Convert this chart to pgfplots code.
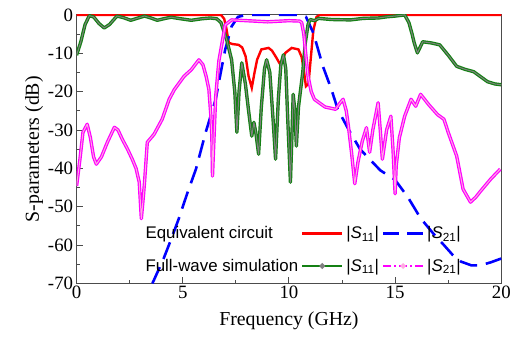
\documentclass[border=0pt]{standalone}
\usepackage{fontspec}
\setmainfont{Liberation Serif}
\newfontfamily\arial{Liberation Sans}
\usepackage{pgfplots}
\usepackage{pgfplotstable}
\pgfplotsset{compat=1.18}
\definecolor{cred}{RGB}{255,0,0}
\definecolor{cblue}{RGB}{0,0,255}
\definecolor{cgreen}{RGB}{20,128,20}
\definecolor{cmag}{RGB}{255,0,255}
\definecolor{cpink}{RGB}{255,170,225}
\definecolor{cgray}{RGB}{128,128,128}

\pgfplotstableread{
f s
0 0
6.8 0
6.95 -1
7.05 -3.4
7.17 -7.3
7.35 -7.6
7.63 -7.8
7.8 -8.5
7.96 -10.8
8.1 -16
8.25 -19
8.38 -15
8.5 -11.7
8.7 -9
9.04 -8.6
9.2 -9.3
9.37 -10.8
9.6 -13
9.83 -9.9
10.13 -8.6
10.45 -9
10.6 -11
10.7 -14.3
10.8 -18.6
10.92 -18
11.05 -10
11.15 -4
11.3 -0.5
11.45 0
20 0
}\redtab

\pgfplotstableread{
f s
3.57 -70
4.1 -63.5
4.43 -58.8
4.82 -53
5.2 -46.7
5.62 -40.2
6.08 -30.6
6.55 -22
6.8 -14.7
7.0 -9
7.3 -3
7.6 -0.5
8.0 0
10.5 0
10.8 -0.5
11.15 -4.7
11.6 -13.4
12.0 -19.4
12.3 -24.6
12.8 -29.8
13.35 -35
14.3 -40.5
15.0 -43
15.6 -47.5
16.2 -53
16.8 -57
17.3 -60
17.7 -62.5
18.1 -64.3
18.6 -65.3
19.0 -65.3
19.5 -64.5
20 -63.5
}\bluetab

\pgfplotstableread{
f s
0 -10.5
0.2 -7
0.4 -2.5
0.6 -0.2
0.8 -0.5
1.05 -2.2
1.3 -3.4
1.55 -2.5
1.9 -0.3
2.2 -0.7
2.55 -1.4
2.9 -0.8
3.2 -0.3
3.5 -0.8
3.8 -1.4
4.1 -1.0
4.45 -0.6
4.9 -1.0
5.4 -1.4
5.9 -1.0
6.3 -0.8
6.6 -1.0
6.8 -2.0
7.07 -6.5
7.3 -11.7
7.45 -20
7.55 -30.6
7.65 -20
7.78 -12.5
7.95 -18
8.1 -25
8.25 -31.6
8.35 -28
8.45 -31
8.57 -36.3
8.7 -24
8.85 -14
8.95 -11.7
9.1 -15
9.25 -27
9.37 -37.6
9.5 -22
9.62 -13
9.74 -10.4
9.85 -14
9.95 -28
10.07 -43.6
10.15 -30
10.2 -20.7
10.28 -25
10.35 -34.2
10.45 -24
10.54 -19.9
10.65 -15
10.77 -7.3
10.9 -2.5
11.0 -1.2
11.2 -1.5
11.4 -0.9
12.0 -1.2
12.9 -1.3
13.5 -0.9
14.2 -0.8
14.6 -0.5
15.0 -0.3
15.45 0
15.65 -2
15.8 -5
15.9 -7.3
16.05 -9.9
16.3 -7
16.7 -7.3
17.1 -7.8
17.5 -10.5
17.9 -13.4
18.3 -14.2
18.7 -14.8
19.0 -16
19.35 -17.4
19.7 -18
20 -18.2
}\greentab

\pgfplotstableread{
f s
0 -44.6
0.15 -38
0.3 -30.6
0.5 -28.5
0.65 -32
0.8 -37
0.93 -38.9
1.17 -37
1.45 -33.2
1.78 -29.3
1.95 -30
2.15 -32.4
2.4 -35
2.62 -37.6
2.8 -40
2.95 -43.6
3.05 -53.1
3.15 -47
3.2 -43.6
3.33 -33.2
3.65 -31.1
4.03 -27.2
4.36 -22
4.6 -19.5
5.06 -16
5.4 -14.3
5.76 -11.7
5.95 -13
6.1 -16
6.23 -19.4
6.32 -26
6.37 -31.6
6.4 -42
6.45 -35
6.55 -21.3
6.7 -12
6.85 -7.3
7.0 -2.6
7.3 -1.3
8 -1.5
9 -1.8
10 -1.5
10.5 -1.6
10.6 -2
10.7 -5
10.77 -9
10.9 -16
11.05 -20
11.2 -22
11.7 -24
12.2 -24.6
12.4 -23
12.55 -22
12.7 -25
12.8 -29
12.95 -36
13.1 -44
13.25 -38.4
13.45 -33
13.65 -29.4
13.8 -35.8
13.95 -30
14.2 -22.9
14.3 -30
14.4 -37.6
14.6 -30
14.8 -26.4
14.9 -35
15.0 -46.6
15.05 -39.4
15.2 -32
15.45 -26.4
15.75 -22
15.97 -23.8
16.2 -20.7
16.6 -23.5
17.0 -26
17.3 -27.2
17.5 -30.6
17.9 -36.8
18.2 -45.4
18.55 -48.8
18.8 -47.5
19.0 -46.1
19.5 -42.8
19.95 -40.2
}\magtab

\begin{document}
\begin{tikzpicture}
\begin{axis}[
  scale only axis, width=427bp, height=270bp,
  xmin=0, xmax=20, ymin=-70, ymax=0,
  xtick={0,5,10,15,20}, ytick={-70,-60,-50,-40,-30,-20,-10,0},
  minor x tick num=1, minor y tick num=1,
  tick align=inside, xtick pos=left, ytick pos=left,
  major tick length=6bp, minor tick length=3.5bp,
  axis line style={line width=1bp, draw=black!70},
  every tick/.style={line width=1bp, black!70},
  ticklabel style={font=\fontsize{19}{22}\selectfont},
  xticklabel style={yshift=1bp},
  /pgf/number format/assume math mode=true,
  xlabel={Frequency (GHz)}, ylabel={S-parameters (dB)},
  label style={font=\fontsize{20}{23}\selectfont},
  xlabel style={yshift=-6bp},
  ylabel style={yshift=-2bp},
  legend columns=3,
  legend cell align=left,
  legend image code/.code={\draw[mark repeat=2,mark phase=2,#1] plot coordinates {(0bp,0bp) (20bp,0bp) (40bp,0bp)};},
  legend style={at={(rel axis cs:0.148,0.024)}, anchor=south west, draw=none, fill=none,
    font=\arial\fontsize{17}{20}\selectfont, column sep=1bp, row sep=15bp},
]
\addlegendimage{empty legend}\addlegendentry{Equivalent circuit}
\addlegendimage{cred, line width=2.4bp}\addlegendentry{|\textit{S}\textsubscript{11}|}
\addlegendimage{cblue, line width=2.4bp, dash pattern=on 16bp off 8bp}\addlegendentry{|\textit{S}\textsubscript{21}|}
\addlegendimage{empty legend}\addlegendentry{Full-wave simulation}
\addlegendimage{cgreen, line width=2.4bp, mark=*, mark size=1.4bp, mark options={fill=cgray, draw=cgray}}\addlegendentry{|\textit{S}\textsubscript{11}|}
\addlegendimage{cmag, line width=2.4bp, dash pattern=on 8bp off 3bp on 2bp off 3bp, mark=*, mark size=1.4bp, mark options={solid, fill=cpink, draw=cpink}}\addlegendentry{|\textit{S}\textsubscript{21}|}

\addplot[forget plot, cred, line width=2.4bp] table[x=f, y=s] {\redtab};
\addplot[forget plot, cblue, line width=2.6bp, dash pattern=on 18bp off 9bp] table[x=f, y=s] {\bluetab};
\addplot[forget plot, cgreen, line width=3.4bp, line join=round] table[x=f, y=s] {\greentab};
\addplot[forget plot, cgray, line width=1bp, line join=round] table[x=f, y=s] {\greentab};
\addplot[forget plot, cmag, line width=3.4bp, line join=round] table[x=f, y=s] {\magtab};
\addplot[forget plot, cpink, line width=1bp, line join=round] table[x=f, y=s] {\magtab};
\end{axis}
\path (current axis.south west) ++(-77bp,-62bp) coordinate (A);
\path (current axis.north east) ++(10bp,15bp) coordinate (B);
\path (A) rectangle (B);
\end{tikzpicture}
\end{document}
